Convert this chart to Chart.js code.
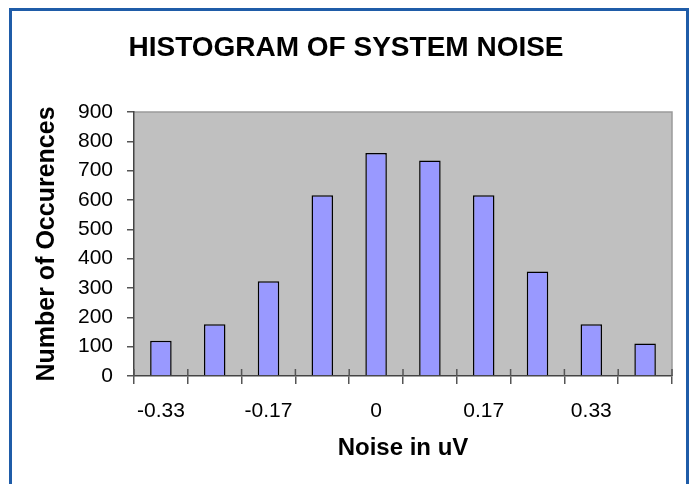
<!DOCTYPE html>
<html>
<head>
<meta charset="utf-8">
<script src="https://cdn.jsdelivr.net/npm/chart.js@4"></script>
<style>
  html, body { margin: 0; padding: 0; background: #fff; }
  #wrap { position: relative; width: 692px; height: 484px; overflow: hidden; }
  #frame { position: absolute; left: 9px; top: 8px; width: 674px; height: 500px;
           border: 3px solid #1f5ca8; border-bottom: none; pointer-events: none; }
</style>
</head>
<body>
<div id="wrap">
  <canvas id="noise" width="692" height="484"></canvas>
  <div id="frame"></div>
</div>
<script>
// histogram bins (uV) and counts
var bins = ["-0.33", "-0.25", "-0.17", "-0.08", "0", "0.08", "0.17", "0.25", "0.33", "0.42"];
var counts = [120, 176, 323, 616, 760, 735, 616, 356, 176, 111];
var yTicks = [0, 100, 200, 300, 400, 500, 600, 700, 800, 900];

var fontFam = "'Liberation Sans', Arial, sans-serif";

// grey plot background with light border on top/right
var plotBg = {
  id: 'plotBg',
  beforeDraw: function (chart) {
    var a = chart.chartArea, c = chart.ctx;
    c.save();
    c.fillStyle = '#c0c0c0';
    c.fillRect(a.left, a.top, a.right - a.left, a.bottom - a.top);
    c.strokeStyle = '#9a9a9a';
    c.lineWidth = 1.5;
    c.beginPath();
    c.moveTo(a.left, a.top);
    c.lineTo(a.right, a.top);
    c.lineTo(a.right, a.bottom);
    c.stroke();
    c.restore();
  },
  // small marks above the x axis so the ticks cross it
  afterDraw: function (chart) {
    var x = chart.scales.x, a = chart.chartArea, c = chart.ctx;
    var half = (x.getPixelForValue(1) - x.getPixelForValue(0)) / 2;
    c.save();
    c.strokeStyle = '#555';
    c.lineWidth = 1.5;
    for (var i = 0; i <= bins.length; i++) {
      var px = x.getPixelForValue(0) - half + i * half * 2;
      c.beginPath();
      c.moveTo(px, a.bottom - 7);
      c.lineTo(px, a.bottom);
      c.stroke();
    }
    c.restore();
  }
};

var chart = new Chart(document.getElementById('noise'), {
  type: 'bar',
  data: {
    labels: bins,
    datasets: [{
      data: counts,
      backgroundColor: '#9999ff',
      borderColor: '#000',
      borderWidth: 1.5,
      barPercentage: 0.4,
      categoryPercentage: 1.0
    }]
  },
  options: {
    responsive: false,
    animation: false,
    layout: { padding: { left: 20, right: 20, top: 0, bottom: 21 } },
    plugins: {
      legend: { display: false },
      tooltip: { enabled: false },
      title: {
        display: true,
        text: 'HISTOGRAM OF SYSTEM NOISE',
        color: '#000',
        font: { family: fontFam, size: 28, weight: 'bold', lineHeight: 1.2 },
        padding: { top: 31, bottom: 47.4 }
      }
    },
    scales: {
      x: {
        afterFit: function (s) { s.height = 87; },
        grid: { drawOnChartArea: false, color: '#555', lineWidth: 1.5, tickLength: 8 },
        border: { color: '#444', width: 1.5 },
        ticks: {
          autoSkip: false,
          maxRotation: 0,
          padding: 15,
          color: '#000',
          font: { family: fontFam, size: 21 },
          callback: function (v, i) { return i % 2 === 0 ? bins[i] : ''; }
        },
        title: {
          display: true,
          text: 'Noise in uV',
          color: '#000',
          font: { family: fontFam, size: 24, weight: 'bold', lineHeight: 1.2 },
          padding: { top: 0, bottom: 0 }
        }
      },
      y: {
        min: 0,
        max: 900,
        afterFit: function (s) { s.width = 114; },
        afterBuildTicks: function (s) { s.ticks = yTicks.map(function (v) { return { value: v }; }); },
        grid: { drawOnChartArea: false, color: '#555', lineWidth: 1.5, tickLength: 7 },
        border: { color: '#444', width: 1.5 },
        ticks: {
          padding: 14,
          color: '#000',
          font: { family: fontFam, size: 21 }
        },
        title: {
          display: true,
          text: 'Number of Occurences',
          color: '#000',
          font: { family: fontFam, size: 25, weight: 'bold', lineHeight: 1.2 },
          padding: { top: 12, bottom: 0 }
        }
      }
    }
  },
  plugins: [plotBg]
});
</script>
</body>
</html>
